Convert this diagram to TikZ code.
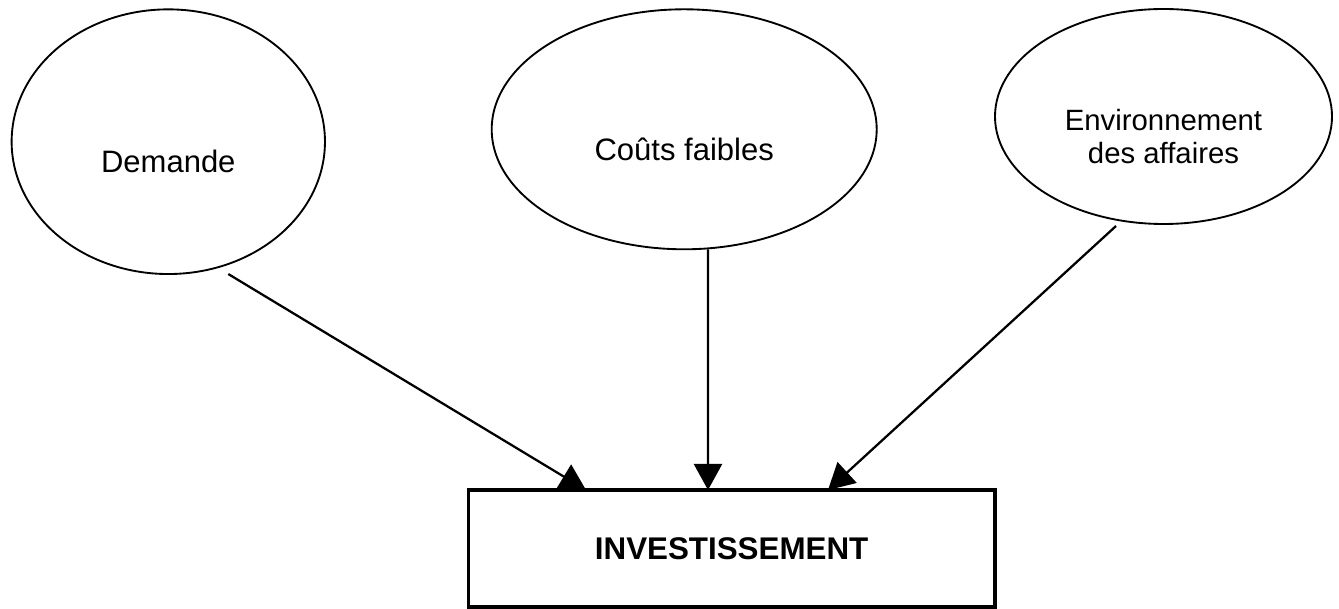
\documentclass[tikz,border=0pt]{standalone}
\usepackage{fontspec}
\setmainfont{Liberation Sans}
\usetikzlibrary{shapes.geometric,arrows.meta,positioning}

\tikzset{every picture/.style={line width=0.75pt}}
\tikzset{
  bulle/.style={draw, ellipse, line width=1.4pt, inner sep=0pt, outer sep=0pt},
  libelle/.style={inner sep=0.75pt, align=center, font=\fontsize{23.25}{28}\selectfont},
  boite/.style={draw, fill=white, line width=2.5pt, inner sep=0pt, outer sep=0pt, minimum width=395pt, minimum height=87.75pt, font=\bfseries\fontsize{23.5}{28}\selectfont},
  fleche/.style={line width=1.7pt, -{Triangle[length=19.5pt,width=21pt]}}
}

\begin{document}
\begin{tikzpicture}[x=0.75pt,y=0.75pt,yscale=-1,xscale=1]
\useasboundingbox (0,0) rectangle (1339,609); %set diagram to 1339 x 609

%Shape: Ellipse [demande]
\node[bulle, minimum width=235pt, minimum height=198.5pt] (demande) at (168.3,141.7) {};
%Shape: Ellipse [couts]
\node[bulle, minimum width=288.75pt, minimum height=180pt] (couts) at (684.2,129.3) {};
%Shape: Ellipse [environnement]
\node[bulle, minimum width=252.75pt, minimum height=161.25pt] (environ) at (1163.5,116.5) {};
%Shape: Rectangle [investissement]
\node[boite] (invest) at (731.6,548.5) {INVESTISSEMENT};

% Text Node
\node[libelle] (demande-txt) at ([shift={(0,20)}]demande.center) {Demande};
% Text Node
\node[libelle] (couts-txt) at ([shift={(0,20)}]couts.center) {Coûts faibles};
% Text Node
\node[libelle, font=\fontsize{22}{24.3}\selectfont] (environ-txt) at ([shift={(0,20)}]environ.center) {Environnement\\des affaires};

%Straight Lines
\coordinate (demande-out) at ([shift={(60,0)}]demande.south);
\coordinate (couts-out) at ([shift={(23.8,0)}]couts.south);
\coordinate (environ-out) at ([shift={(-47.5,2)}]environ.south);
\draw[fleche] (demande-out) -- ([shift={(-145.6,0)}]invest.north);
\draw[fleche] (couts-out) -- ([shift={(-23.6,0)}]invest.north);
\draw[fleche] (environ-out) -- ([shift={(96.4,0)}]invest.north);

\end{tikzpicture}
\end{document}
